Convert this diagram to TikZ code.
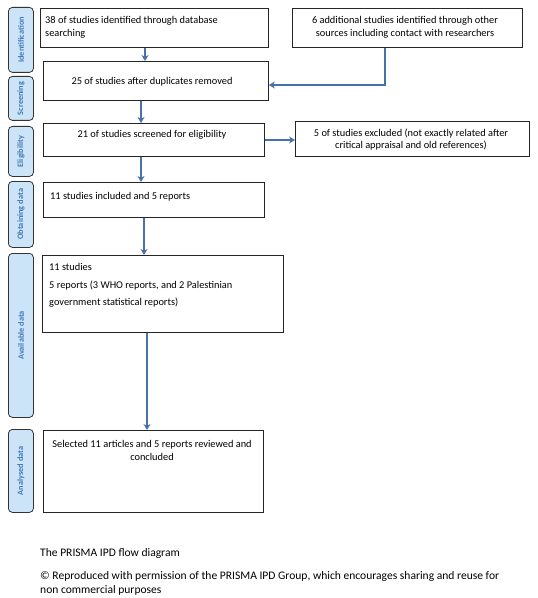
\documentclass[tikz,border=0pt]{standalone}
\usepackage{fontspec}
\setmainfont{Carlito}
\usetikzlibrary{arrows.meta}
\definecolor{tabfill}{RGB}{204,228,247}
\definecolor{tabtext}{RGB}{70,120,185}
\definecolor{arrblue}{RGB}{72,112,170}
\tikzset{
  box/.style={draw=black!85, line width=0.8pt, fill=white, inner sep=0pt, anchor=north west},
  tab/.style={draw=black!80, rounded corners=4bp, fill=tabfill, line width=0.8pt, inner sep=0pt, anchor=north west, minimum width=25bp},
  tabtxt/.style={rotate=90, font=\fontsize{8.3}{10}\selectfont\bfseries, text=tabtext},
  txt/.style={font=\fontsize{10.4}{12.5}\selectfont, inner sep=0pt},
  captxt/.style={font=\fontsize{11.6}{13.5}\selectfont, inner sep=0pt},
  arr/.style={draw=arrblue, line width=1.6pt, -{Stealth[length=6bp,width=7bp]}},
}
\begin{document}
\begin{tikzpicture}[x=1bp,y=-1bp]
\useasboundingbox[fill=white] (0,0) rectangle (538,598);
% side tabs
\node[tab, minimum height=65bp] (t1) at (8,7) {};
\node[tabtxt] at (t1.center) {Identification};
\node[tab, minimum height=44bp] (t2) at (8,76) {};
\node[tabtxt] at (t2.center) {Screening};
\node[tab, minimum height=50bp] (t3) at (8,126) {};
\node[tabtxt] at (t3.center) {Eligibility};
\node[tab, minimum height=66bp] (t4) at (8,181) {};
\node[tabtxt] at (t4.center) {Obtaining data};
\node[tab, minimum height=164bp] (t5) at (8,253) {};
\node[tabtxt] at (t5.center) {Available data};
\node[tab, minimum height=83bp] (t6) at (8,429) {};
\node[tabtxt] at (t6.center) {Analysed data};
% boxes
\node[box, minimum width=228bp, minimum height=39bp] (b1) at (40,8) {};
\node[txt, anchor=west, align=left] (l1) at (45,27.5) {38 of studies identified through database\\searching};
\node[box, minimum width=230bp, minimum height=39bp] (b2) at (292,8) {};
\node[txt, align=center] (l2) at (405,27.5) {6 additional studies identified through other\\sources including contact with researchers};
\node[box, minimum width=225bp, minimum height=39bp] (b3) at (43,61) {};
\node[txt] (l3) at (152,82) {25 of studies after duplicates removed};
\node[box, minimum width=221bp, minimum height=33bp] (b4) at (43,123) {};
\node[txt] (l4) at (152,135) {21 of studies screened for eligibility};
\node[box, minimum width=234bp, minimum height=35bp] (b5) at (295,121) {};
\node[txt, align=center] (l5) at (411,139.5) {5 of studies excluded (not exactly related after\\critical appraisal and old references)};
\node[box, minimum width=221bp, minimum height=35bp] (b6) at (43,182) {};
\node[txt, anchor=west] (l6) at (50,197) {11 studies included and 5 reports};
\node[box, minimum width=241bp, minimum height=77bp] (b7) at (42,255) {};
\node[txt, anchor=west, align=left, font=\fontsize{10.4}{17.5}\selectfont] (l7) at (49,285.5) {11 studies\\5 reports (3 WHO reports, and 2 Palestinian\\government statistical reports)};
\node[box, minimum width=220bp, minimum height=82bp] (b8) at (43,430) {};
\node[txt, align=center] (l8) at (152,450.5) {Selected 11 articles and 5 reports reviewed and\\concluded};
% arrows
\draw[arr] (b1.south -| 145,0) -- (b3.north -| 145,0);
\coordinate (c2) at (385,85);
\draw[arr] (b2.south -| c2) -- (c2) -- (c2 -| b3.east);
\draw[arr] (b3.south -| 141,0) -- (b4.north -| 141,0);
\draw[arr] (b4.east |- 0,140) -- (b5.west |- 0,140);
\draw[arr] (b4.south -| 141,0) -- (b6.north -| 141,0);
\draw[arr] (b6.south -| 144,0) -- (b7.north -| 144,0);
\draw[arr] (b7.south -| 147,0) -- (b8.north -| 147,0);
% caption
\node[captxt, anchor=west] (cap1) at (40,553) {The PRISMA IPD flow diagram};
\node[captxt, anchor=west, align=left] (cap2) at (40,583.5) {© Reproduced with permission of the PRISMA IPD Group, which encourages sharing and reuse for\\non commercial purposes};
\end{tikzpicture}
\end{document}
